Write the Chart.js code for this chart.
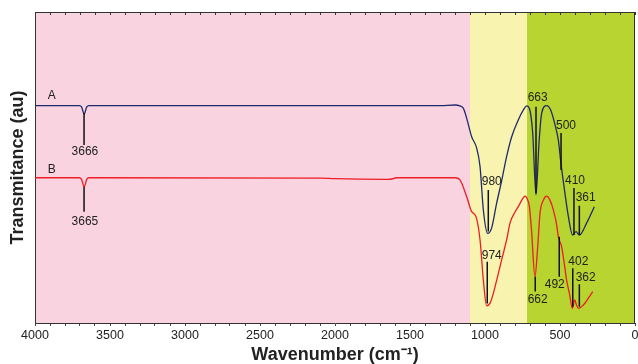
<!DOCTYPE html>
<html lang="en">
<head>
    <meta charset="UTF-8">
    <title>FTIR spectra A and B</title>
    <script src="https://cdn.jsdelivr.net/npm/chart.js"></script>
    <style>
        body {
            margin: 0;
            background: #fff;
        }
        .grafico {
            width: 638px;
            height: 364px;
            position: relative;
        }
    </style>
</head>
<body>
    <div class="grafico">
        <canvas id="chartFTIR"></canvas>
    </div>

    <script>
        // wavenumber (cm-1) and transmittance (arbitrary units)
        const waveA = [4000, 3705, 3690, 3672, 3655, 3640, 2000, 1300, 1200, 1167, 1144, 1122, 1089, 1056, 1033, 1011, 982, 956, 922, 889, 856, 822, 778, 744, 722, 704, 682, 660, 640, 622, 589, 562, 533, 511, 496, 473, 444, 416, 393, 371, 322, 271];
        const transA = [69.9, 69.9, 69.5, 67.2, 69.5, 69.9, 69.9, 69.9, 70.1, 69.8, 69.0, 65.8, 59.9, 56.3, 50.3, 36.3, 28.8, 30.5, 38.6, 45.7, 53.5, 59.9, 65.3, 68.5, 69.8, 69.0, 61.1, 41.2, 57.9, 67.5, 69.9, 68.5, 63.7, 58.8, 52.3, 43.8, 34.2, 28.3, 29.4, 28.3, 32.2, 37.4];

        const waveB = [4000, 3705, 3690, 3672, 3655, 3640, 2100, 2000, 1650, 1620, 1590, 1200, 1167, 1122, 1089, 1060, 1033, 1011, 989, 966, 944, 922, 889, 856, 833, 800, 778, 750, 733, 715, 704, 690, 667, 650, 633, 611, 589, 567, 544, 522, 511, 489, 470, 456, 435, 418, 402, 390, 376, 344, 311, 282];
        const transB = [46.7, 46.7, 46.2, 43.8, 46.2, 46.7, 46.6, 46.4, 46.2, 46.3, 46.7, 46.7, 46.0, 40.6, 35.8, 34.2, 26.7, 13.8, 5.5, 6.4, 9.6, 13.8, 20.3, 26.7, 32.2, 35.7, 37.4, 39.9, 40.8, 39.5, 37.4, 29.9, 14.9, 23.5, 35.4, 39.5, 40.8, 39.5, 36.3, 31.5, 27.7, 24.5, 18.6, 13.8, 9.0, 4.7, 7.4, 5.8, 4.7, 5.8, 8.0, 10.1];

        // spectral regions (cm-1)
        const regionLimits = [4000, 1100, 720, 0];
        const regionColors = ['#f9d4e0', '#f8f4b0', '#b8d430'];

        // peak marks: label, marker x, marker top/bottom, label x/y
        const peakLabels = ['3666', '3665', '980', '974', '663', '500', '410', '361', '662', '492', '402', '362'];
        const peakX      = [3673, 3673, 978, 985, 660, 493, 407, 371, 665, 505, 415, 371];
        const peakTop    = [67.5, 43.8, 42.8, 19.7, 69.5, 61.1, 43.4, 37.7, 14.9, 27.7, 17.6, 12.5];
        const peakBottom = [57.2, 35.8, 29.4, 6.3, 41.8, 49.2, 28.3, 28.3, 10.1, 14.9, 5.2, 5.2];
        const peakLabelX = [3667, 3667, 955, 955, 649, 460, 400, 329, 649, 535, 378, 329];
        const peakLabelY = [55.1, 32.6, 45.4, 21.5, 72.6, 63.4, 45.8, 40.4, 7.6, 12.4, 19.7, 14.7];

        const seriesNames = ['A', 'B'];
        const seriesNameX = [3889, 3889];
        const seriesNameY = [73.0, 49.2];

        const xTickStep = 100;
        const xLabelStep = 500;

        const zonas = {
            id: 'zonas',
            beforeDraw(chart) {
                const {ctx, chartArea, scales: {x}} = chart;
                ctx.save();
                for (let i = 0; i < regionColors.length; i++) {
                    const x1 = x.getPixelForValue(regionLimits[i]);
                    const x2 = x.getPixelForValue(regionLimits[i + 1]);
                    ctx.fillStyle = regionColors[i];
                    ctx.fillRect(x1, chartArea.top, x2 - x1, chartArea.bottom - chartArea.top);
                }
                ctx.restore();
            }
        };

        const marcas = {
            id: 'marcas',
            afterDatasetsDraw(chart) {
                const {ctx, chartArea, scales: {x, y}} = chart;
                ctx.save();

                // frame on top and right, with inward ticks on top
                ctx.strokeStyle = '#333';
                ctx.lineWidth = 1;
                ctx.beginPath();
                ctx.moveTo(chartArea.left, chartArea.top + 0.5);
                ctx.lineTo(chartArea.right, chartArea.top + 0.5);
                ctx.moveTo(chartArea.right - 0.5, chartArea.top);
                ctx.lineTo(chartArea.right - 0.5, chartArea.bottom);
                x.ticks.forEach(t => {
                    const px = Math.round(x.getPixelForValue(t.value)) + 0.5;
                    ctx.moveTo(px, chartArea.top);
                    ctx.lineTo(px, chartArea.top + 3);
                });
                ctx.stroke();

                // peak markers
                ctx.strokeStyle = '#111';
                ctx.lineWidth = 1.5;
                ctx.beginPath();
                for (let i = 0; i < peakLabels.length; i++) {
                    const px = x.getPixelForValue(peakX[i]);
                    ctx.moveTo(px, y.getPixelForValue(peakTop[i]));
                    ctx.lineTo(px, y.getPixelForValue(peakBottom[i]));
                }
                ctx.stroke();

                ctx.fillStyle = '#222';
                ctx.font = '12px "Liberation Sans", Arial, sans-serif';
                ctx.textAlign = 'center';
                ctx.textBaseline = 'middle';
                for (let i = 0; i < peakLabels.length; i++) {
                    ctx.fillText(peakLabels[i], x.getPixelForValue(peakLabelX[i]), y.getPixelForValue(peakLabelY[i]));
                }
                for (let i = 0; i < seriesNames.length; i++) {
                    ctx.fillText(seriesNames[i], x.getPixelForValue(seriesNameX[i]), y.getPixelForValue(seriesNameY[i]));
                }
                ctx.restore();
            }
        };

        const ctx = document.getElementById('chartFTIR').getContext('2d');
        new Chart(ctx, {
            type: 'line',
            data: {
                datasets: [{
                    label: 'A',
                    data: waveA.map((w, i) => ({x: w, y: transA[i]})),
                    borderColor: '#1f2a6e',
                    borderWidth: 1.3,
                    pointRadius: 0,
                    fill: false,
                    cubicInterpolationMode: 'monotone'
                }, {
                    label: 'B',
                    data: waveB.map((w, i) => ({x: w, y: transB[i]})),
                    borderColor: '#ee1c24',
                    borderWidth: 1.3,
                    pointRadius: 0,
                    fill: false,
                    cubicInterpolationMode: 'monotone'
                }]
            },
            options: {
                responsive: true,
                maintainAspectRatio: false,
                animation: false,
                layout: { padding: { top: 12, right: 3, left: 0, bottom: 0 } },
                plugins: {
                    legend: { display: false },
                    tooltip: { enabled: false }
                },
                scales: {
                    x: {
                        type: 'linear',
                        min: 0,
                        max: 4000,
                        reverse: true,
                        afterFit: s => { s.height = 41; s.paddingLeft = 0; s.paddingRight = 0; },
                        grid: {
                            drawOnChartArea: false,
                            drawTicks: true,
                            tickLength: 3,
                            color: '#444'
                        },
                        border: { display: true, color: '#333', width: 1 },
                        ticks: {
                            stepSize: xTickStep,
                            autoSkip: false,
                            maxRotation: 0,
                            padding: 2.5,
                            color: '#222',
                            font: { family: '"Liberation Sans", Arial, sans-serif', size: 12.5 },
                            callback: v => (v % xLabelStep === 0 ? String(v) : '')
                        },
                        title: {
                            display: true,
                            text: 'Wavenumber (cm\u207B\u00B9)',
                            color: '#222',
                            padding: { top: 0, bottom: 0 },
                            font: { family: '"Liberation Sans", Arial, sans-serif', size: 18, weight: 'bold', lineHeight: 1 }
                        }
                    },
                    y: {
                        min: 0,
                        max: 100,
                        afterFit: s => { s.width = 35; },
                        grid: { display: false },
                        border: { display: true, color: '#333', width: 1 },
                        ticks: { display: false },
                        title: {
                            display: true,
                            text: 'Transmitance (au)',
                            color: '#222',
                            padding: { top: 9, bottom: 0 },
                            font: { family: '"Liberation Sans", Arial, sans-serif', size: 18, weight: 'bold', lineHeight: 1 }
                        }
                    }
                }
            },
            plugins: [zonas, marcas]
        });
    </script>
</body>
</html>
